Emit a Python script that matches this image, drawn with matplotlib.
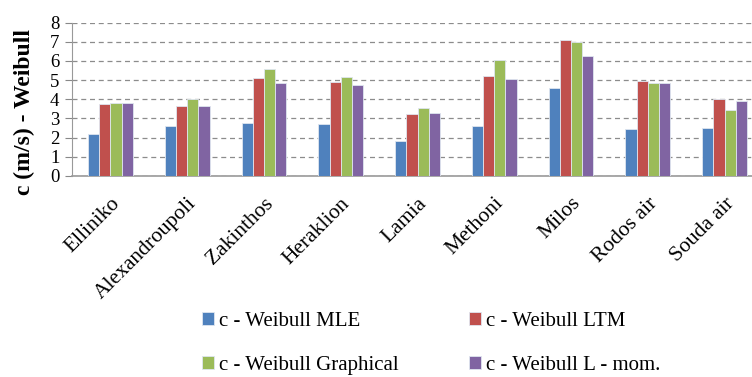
import numpy as np
import matplotlib.pyplot as plt

stations = ["Elliniko", "Alexandroupoli", "Zakinthos", "Heraklion", "Lamia",
            "Methoni", "Milos", "Rodos air", "Souda air"]
c_mle = [2.21, 2.61, 2.78, 2.73, 1.81, 2.61, 4.59, 2.45, 2.50]
c_ltm = [3.74, 3.63, 5.11, 4.90, 3.23, 5.22, 7.10, 4.96, 4.00]
c_graph = [3.81, 4.02, 5.57, 5.17, 3.57, 6.02, 6.97, 4.83, 3.46]
c_lmom = [3.81, 3.63, 4.83, 4.73, 3.29, 5.06, 6.24, 4.83, 3.93]

series = [
    ("c - Weibull MLE", c_mle, "#4F81BD"),
    ("c - Weibull LTM", c_ltm, "#C0504D"),
    ("c - Weibull Graphical", c_graph, "#9BBB59"),
    ("c - Weibull L - mom.", c_lmom, "#8064A2"),
]

plt.rcParams["font.family"] = ["Liberation Serif", "DejaVu Serif"]

fig = plt.figure(figsize=(7.52, 3.77), dpi=100)
ax = fig.add_axes([72 / 752, 1 - 176 / 377, 691 / 752, 153.5 / 377])

x = np.arange(len(stations))
w = 0.146
bars = []
for i, (name, vals, col) in enumerate(series):
    b = ax.bar(x + (i - 1.5) * w, vals, w, color=col, edgecolor="#dfe6f0",
               linewidth=0.6, label=name, zorder=3)
    bars.append(b)

ax.set_xlim(-0.5, len(stations) - 0.5)
ax.set_ylim(0, 8)
ax.set_yticks(range(9))
ax.tick_params(axis="y", labelsize=13.5, length=5, color="#888888", pad=4)
ax.tick_params(axis="x", length=0, labelsize=15.5, pad=13)
ax.set_xticks(x)
ax.set_xticklabels(stations, rotation=45, ha="right", rotation_mode="anchor")
ax.yaxis.grid(True, linestyle=(0, (4, 3)), color="#8c8c8c", linewidth=0.9, zorder=0)
for s in ["top", "right"]:
    ax.spines[s].set_visible(False)
ax.spines["left"].set_color("#999999")
ax.spines["bottom"].set_color("#999999")
ax.spines["bottom"].set_linewidth(1.2)

ax.set_ylabel("c (m/s) - Weibull", fontsize=17, fontweight="bold")
ax.yaxis.set_label_coords(-0.054, 0.42)

# legend reads row by row: MLE, LTM / Graphical, L-mom
order = [0, 2, 1, 3]
fig.legend([bars[k] for k in order], [series[k][0] for k in order],
           loc="upper left", bbox_to_anchor=(183 / 752, 1 - 293 / 377), ncol=2,
           frameon=False, fontsize=15, handlelength=0.6, handleheight=0.6,
           handletextpad=0.25, columnspacing=3.34, labelspacing=1.2)

fig.savefig("out.png", dpi=100)
